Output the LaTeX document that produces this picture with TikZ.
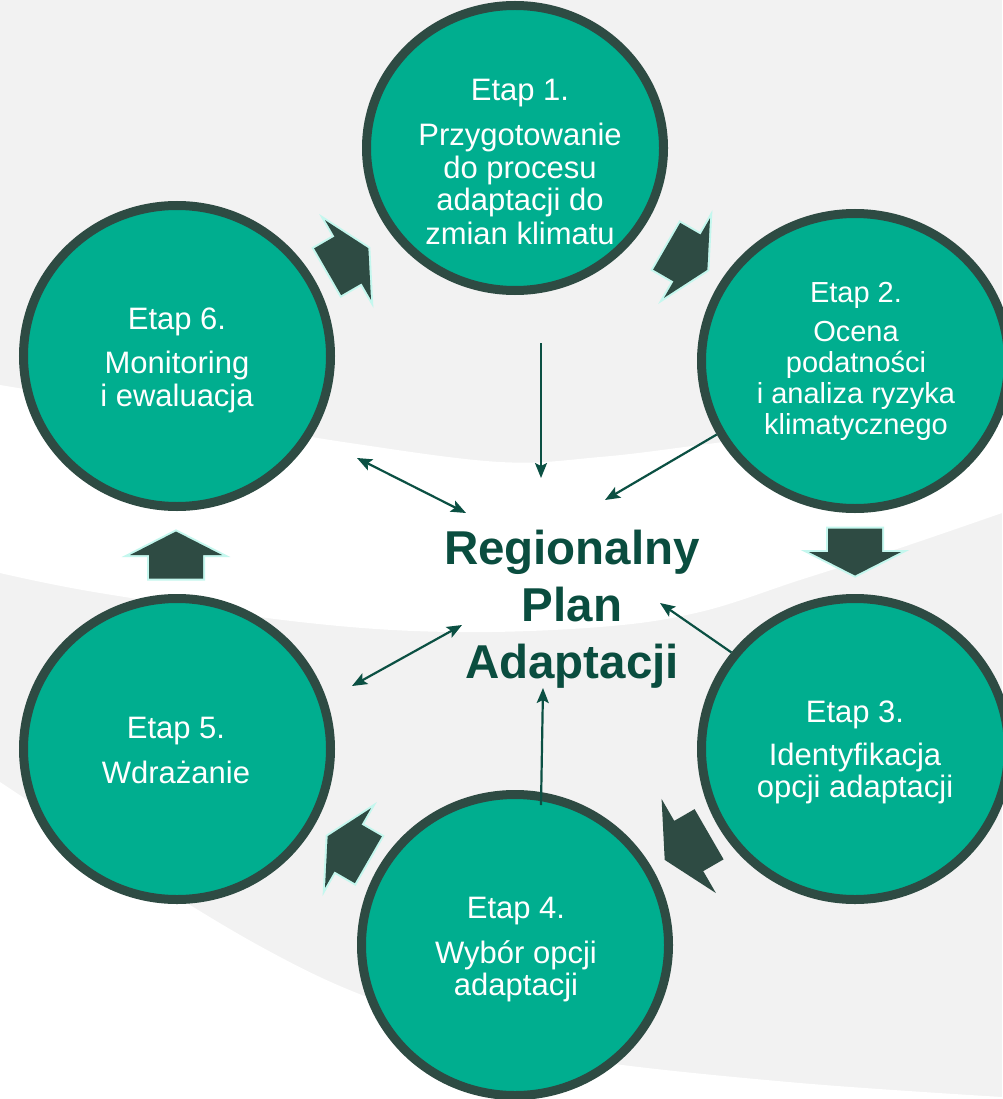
\documentclass[tikz,border=0pt]{standalone}
\usepackage{fontspec}
\setmainfont{Liberation Sans}
\usetikzlibrary{shapes.geometric,arrows.meta}
\definecolor{bggray}{HTML}{F2F2F2}
\definecolor{cfill}{HTML}{00AE8F}
\definecolor{cborder}{HTML}{2E4B43}
\definecolor{adark}{HTML}{2E4B43}
\definecolor{aglow}{HTML}{C4F7EE}
\definecolor{thinc}{HTML}{0B5043}
\definecolor{ctext}{HTML}{0A4D3F}
\newcommand\blkarrow[4]{%
  \path[shift={(#1,#2)}, rotate=#3, fill=adark, draw=#4, line width=4pt, line join=miter]
    (-23.5,-27) -- (0,-27) -- (0,-46) -- (23.5,0) -- (0,46) -- (0,27) -- (-23.5,27) -- cycle;
  \fill[shift={(#1,#2)}, rotate=#3, adark]
    (-23.5,-27) -- (0,-27) -- (0,-46) -- (23.5,0) -- (0,46) -- (0,27) -- (-23.5,27) -- cycle;}
\begin{document}
\begin{tikzpicture}[x=1pt,y=-1pt,
  stage/.style={ellipse, draw=cborder, line width=9pt, fill=cfill, inner sep=0pt,
    minimum width=307pt, minimum height=301pt},
  lbl/.style={text=white, anchor=base, inner sep=0pt},
  thinarr/.style={draw=thinc, line width=2.2pt, -{Stealth[length=15pt,width=12pt,inset=3pt]}},
  dblarr/.style={draw=thinc, line width=2.2pt, {Stealth[length=15pt,width=12pt,inset=3pt]}-{Stealth[length=15pt,width=12pt,inset=3pt]}}
]
\useasboundingbox (0,0) rectangle (1002,1099);
% background
\fill[bggray] (0,0) rectangle (1002,1099);
\fill[white] plot[smooth, tension=0.6] coordinates {(0,385) (200,418) (350,443) (500,462) (600,457) (700,445) (850,425) (1002,400)}
  -- plot[smooth, tension=0.6] coordinates {(1002,513) (900,548) (800,580) (700,612) (600,627) (450,632) (300,622) (100,593) (0,573)} -- cycle;
\fill[white] plot[smooth, tension=0.6] coordinates {(0,782) (150,880) (267,950) (367,997) (500,1040) (600,1062) (800,1083) (1002,1097)}
  -- (1002,1099) -- (0,1099) -- cycle;
% stages
\node[stage, minimum width=297pt, minimum height=285pt] (c1) at (515,148) {};
\node[stage, minimum height=295pt] (c2) at (855,361) {};
\node[stage] (c3) at (855,749) {};
\node[stage] (c4) at (515,945) {};
\node[stage] (c5) at (177,749) {};
\node[stage] (c6) at (177,356) {};
% block arrows
\blkarrow{348}{260}{30}{aglow}
\blkarrow{687}{258}{-30}{aglow}
\blkarrow{855}{552}{-90}{aglow}
\blkarrow{687}{847}{-150}{adark}
\blkarrow{348}{848}{150}{aglow}
\blkarrow{176}{555}{90}{aglow}
% texts
\foreach \x/\y/\s/\t [count=\n] in {
  520/101/31/Etap 1., 520/146/31/Przygotowanie, 520/179/31/do procesu, 520/211/31/adaptacji do, 520/244/31/zmian klimatu,
  856/302/29/Etap 2., 856/341/29/Ocena, 856/372/29/podatności, 856/403/29/i analiza ryzyka, 856/434/29/klimatycznego,
  855/722/31/Etap 3., 855/765/31/Identyfikacja, 855/797/31/opcji adaptacji,
  516/918/31/Etap 4., 516/963/31/Wybór opcji, 516/995/31/adaptacji,
  176/738/31/Etap 5., 176/783/31/Wdrażanie,
  177/329/31/Etap 6., 177/373/31/Monitoring, 177/406/31/i ewaluacja}
  \node[lbl, font=\fontsize{\s}{\s}\selectfont] (txt\n) at (\x,\y) {\t};
\node[font=\bfseries\fontsize{47.5}{57}\selectfont, text=ctext, align=center, inner sep=0pt] (rpa) at (572,609) {Regionalny\\Plan\\Adaptacji};
% thin connectors
\coordinate (a1s) at (541,343); \coordinate (a1e) at (541,478);
\coordinate (a2e) at (605,500);
\coordinate (a3e) at (660,603);
\coordinate (a4s) at (541,805); \coordinate (a4e) at (543,688);
\coordinate (d5a) at (462,625); \coordinate (d5b) at (352,686);
\coordinate (d6a) at (357,458); \coordinate (d6b) at (466,513);
\draw[thinarr] (a1s) -- (a1e);
\draw[thinarr] (c2.208) -- (a2e);
\draw[thinarr] (c3.142) -- (a3e);
\draw[thinarr] (a4s) -- (a4e);
\draw[dblarr] (d5a) -- (d5b);
\draw[dblarr] (d6a) -- (d6b);
\end{tikzpicture}
\end{document}
